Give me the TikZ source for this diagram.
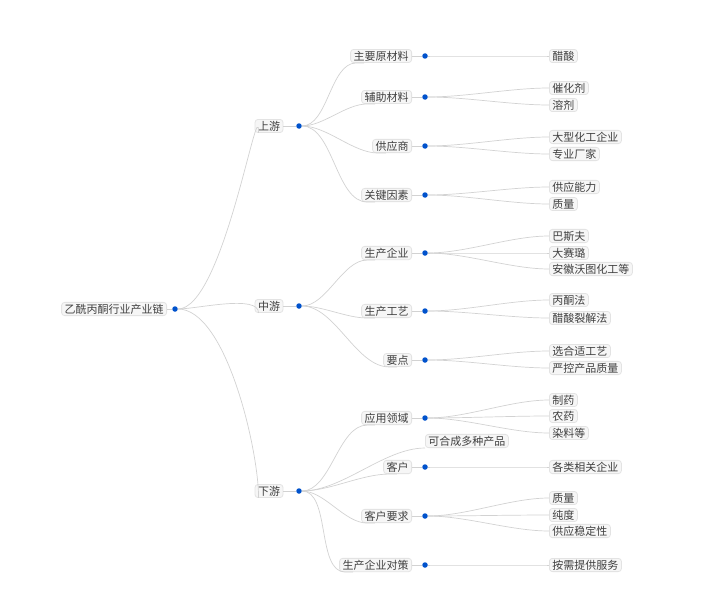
\documentclass[tikz,border=0pt]{standalone}
\usepackage{fontspec}
\setmainfont{Noto Sans CJK SC}
\begin{document}
\begin{tikzpicture}[x=1pt,y=-1pt,
  box/.style={draw=gray!22,fill=gray!7,rounded corners=3pt,inner xsep=3pt,inner ysep=1.5pt,font=\fontsize{11}{12}\selectfont,text=black!75,line width=0.8pt},
  dotn/.style={circle,fill=blue!60!cyan!80!black,inner sep=0pt,minimum size=5.5pt},
  ln/.style={draw=gray!35,line width=0.7pt}]
\useasboundingbox (0,0) rectangle (728,610);
\node[box,anchor=east] (r) at (167,309) {乙酰丙酮行业产业链};
\node[dotn] (rd) at (175,309) {};
\foreach \n/\t/\y in {u/上游/126,m/中游/306,d/下游/491}{
  \node[box] (\n) at (269,\y) {\t};
  \node[dotn] (\n d) at (299,\y) {};
  \draw[ln] (\n.east) -- (\n d);
  \draw[ln] (rd) to[out=0,in=90,looseness=0.6] ([xshift=4pt]\n.south west);
}
\draw[ln] (r.east) -- (rd);
% level 2
\foreach \n/\t/\y/\p in {a/主要原材料/56/u,b/辅助材料/97/u,c/供应商/146/u,e/关键因素/195/u,
  f/生产企业/253/m,g/生产工艺/311/m,h/要点/360/m,
  i/应用领域/418/d,k/客户/467/d,l/客户要求/516/d,o/生产企业对策/565/d}{
  \node[box,anchor=east] (\n) at (412,\y) {\t};
  \node[dotn] (\n d) at (425,\y) {};
  \draw[ln] (\n.east) -- (\n d);
  \draw[ln] (\p d) to[out=0,in=180,looseness=0.8] ([xshift=6pt]\n.south west) -- ([xshift=14pt]\n.south west);
}
\node[box,anchor=west] (j) at (425,441) {可合成多种产品};
\draw[ln] (dd) to[out=0,in=180,looseness=0.8] (j.south west);
% leaves
\foreach \n/\t/\y/\p in {a1/醋酸/56/a,b1/催化剂/88/b,b2/溶剂/105/b,c1/大型化工企业/137/c,c2/专业厂家/154/c,
  e1/供应能力/187/e,e2/质量/204/e,f1/巴斯夫/236/f,f2/大赛璐/253/f,f3/安徽沃图化工等/269/f,
  g1/丙酮法/300/g,g2/醋酸裂解法/318/g,h1/选合适工艺/351/h,h2/严控产品质量/368/h,
  i1/制药/400/i,i2/农药/416/i,i3/染料等/433/i,k1/各类相关企业/467/k,
  l1/质量/498/l,l2/纯度/515/l,l3/供应稳定性/531/l,o1/按需提供服务/565/o}{
  \node[box,anchor=west] (\n) at (549,\y) {\t};
  \draw[ln] (\p d) to[out=0,in=180,looseness=0.8] (\n.west);
}
\end{tikzpicture}
\end{document}
